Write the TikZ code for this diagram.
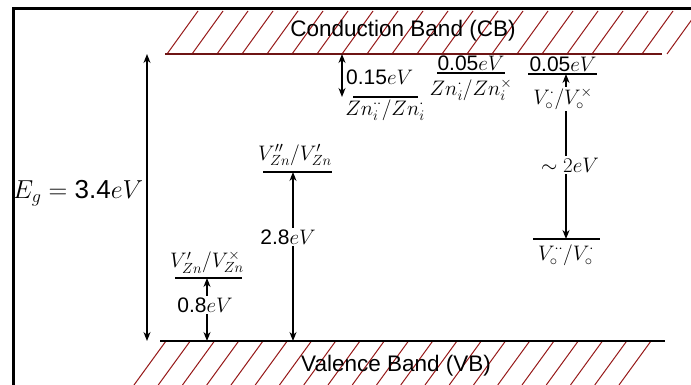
\RequirePackage{fix-cm}
\documentclass[tikz,border=0pt]{standalone}
\usepackage{fontspec}
\setsansfont{Liberation Sans}
\usetikzlibrary{arrows.meta}
\definecolor{hatchred}{RGB}{150,25,25}
\definecolor{cbline}{RGB}{110,20,20}
\tikzset{
  hatch/.style={draw=hatchred, line width=1pt},
  frameline/.style={line width=3pt},
  bandline/.style={line width=1.3pt},
  level/.style={line width=1.3pt},
  darr/.style={line width=1.3pt, {Stealth[length=9pt,width=7pt]}-{Stealth[length=9pt,width=7pt]}},
  lbl/.style={inner sep=0pt, font=\fontsize{21}{24}\selectfont},
  wlbl/.style={lbl, fill=white, inner sep=1.5pt},
  bandlbl/.style={inner sep=0pt, font=\sffamily\fontsize{22.5}{26}\selectfont},
}
\begin{document}
\begin{tikzpicture}[x=1pt,y=-1pt]
\useasboundingbox (0,0) rectangle (691,385);
% hatching
\begin{scope}
\clip (0,0) rectangle (691,385);
\foreach \x in {167,192,...,667} \draw[hatch] (\x,54) -- ++(31,-43);
\foreach \x in {166,190.25,...,652} \draw[hatch] (\x,341) -- ++(-32,44);
\end{scope}
% frame
\coordinate (frTR) at (691,9);
\coordinate (frTL) at (13,9);
\coordinate (frBL) at (13,385);
\draw[frameline] (frTR) -- (frTL) -- (frBL);
% band edges
\coordinate (cbL) at (165,54); \coordinate (cbR) at (662,54);
\coordinate (vbL) at (160,341); \coordinate (vbR) at (665,341);
\draw[bandline, draw=cbline] (cbL) -- (cbR);
\draw[bandline] (vbL) -- (vbR);
\node[bandlbl] (cb) at (403,31) {Conduction Band (CB)};
\node[bandlbl] (vb) at (396,366) {Valence Band (VB)};
% band gap
\coordinate (egT) at (147,54); \coordinate (egB) at (147,341);
\draw[darr] (egT) -- (egB);
\node[lbl, font=\fontsize{26}{30}\selectfont] (eg) at (78,193) {$E_g = \textsf{3.4}eV$};
% Zn_i'' / Zn_i'
\coordinate (znT) at (342,54); \coordinate (znB) at (342,97);
\draw[darr] (znT) -- (znB);
\coordinate (zn1L) at (353,97); \coordinate (zn1R) at (418,97);
\draw[level] (zn1L) -- (zn1R);
\node[lbl, anchor=west] (e015) at (346,77) {$\textsf{0.15}eV$};
\node[lbl] (zn1) at (385,110) {$Zn_i^{\cdot\cdot}/Zn_i^{\cdot}$};
% Zn_i' / Zn_i x
\coordinate (zn2L) at (437,73); \coordinate (zn2R) at (505,73);
\draw[level] (zn2L) -- (zn2R);
\node[lbl] (e005a) at (471,63) {$\textsf{0.05}eV$};
\node[lbl] (zn2) at (471,90) {$Zn_i^{\cdot}/Zn_i^{\times}$};
% V_o levels
\coordinate (vo1L) at (528,74); \coordinate (vo1R) at (597,74);
\coordinate (vo2L) at (533,239); \coordinate (vo2R) at (600,239);
\draw[level] (vo1L) -- (vo1R);
\draw[level] (vo2L) -- (vo2R);
\coordinate (voT) at (566,74); \coordinate (voB) at (566,239);
\draw[darr] (voT) -- (voB);
\node[lbl] (e005b) at (563,64) {$\textsf{0.05}eV$};
\node[wlbl] (vo1) at (563,99) {$V_{\circ}^{\cdot}/V_{\circ}^{\times}$};
\node[wlbl] (e2) at (570,165) {$\sim 2eV$};
\node[lbl] (vo2) at (566,255) {$V_{\circ}^{\cdot\cdot}/V_{\circ}^{\cdot}$};
% V_Zn'' / V_Zn'
\coordinate (vz1L) at (263,172); \coordinate (vz1R) at (332,172);
\draw[level] (vz1L) -- (vz1R);
\coordinate (vz1T) at (293,172); \coordinate (vz1B) at (293,341);
\draw[darr] (vz1T) -- (vz1B);
\node[lbl] (vz1) at (295,155) {$V_{Zn}''/V_{Zn}'$};
\node[wlbl] (e28) at (288,237) {$\textsf{2.8}eV$};
% V_Zn' / V_Zn x
\coordinate (vz2L) at (175,278); \coordinate (vz2R) at (242,278);
\draw[level] (vz2L) -- (vz2R);
\coordinate (vz2T) at (207,278); \coordinate (vz2B) at (207,341);
\draw[darr] (vz2T) -- (vz2B);
\node[lbl] (vz2) at (207,262) {$V_{Zn}'/V_{Zn}^{\times}$};
\node[wlbl] (e08) at (205,305) {$\textsf{0.8}eV$};
\end{tikzpicture}
\end{document}
